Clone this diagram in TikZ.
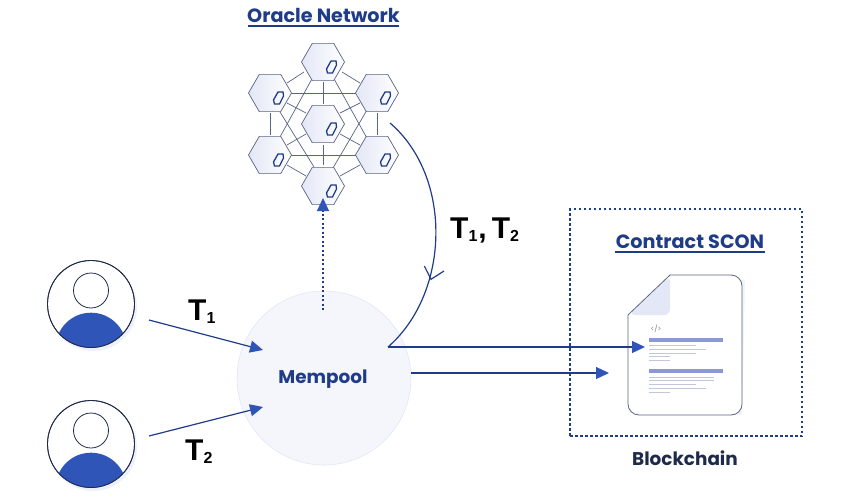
\documentclass[tikz,border=0pt]{standalone}
\usepackage{fontspec}
\setmainfont{Poppins}
\newfontfamily\tfont{Liberation Sans}
\usetikzlibrary{arrows.meta,shapes.geometric,calc}
\definecolor{navy}{HTML}{1F3C88}
\definecolor{tblue}{HTML}{2F55B8}
\definecolor{ink}{HTML}{1E2A4A}
\definecolor{hexline}{HTML}{5A6484}
\definecolor{lav}{HTML}{E3E7F6}
\definecolor{pale}{HTML}{F5F6FB}
\definecolor{bar}{HTML}{8C98D6}
\definecolor{greyline}{HTML}{C3C7DA}
\tikzset{
  flow/.style={draw=navy,line width=1.2pt,-{Triangle[length=13pt,width=12pt,color=tblue]}},
  plainflow/.style={draw=navy,line width=1.2pt},
  title/.style={font=\bfseries\fontsize{19.2}{22}\selectfont,text=navy},
  subtitle/.style={font=\bfseries\fontsize{18.4}{22}\selectfont},
  tlabel/.style={font=\tfont\bfseries\fontsize{30}{32}\selectfont,text=black,anchor=base west,inner sep=0pt},
  hex/.style={regular polygon,regular polygon sides=6,minimum size=43pt,inner sep=0pt,draw=hexline,line width=.7pt,shade,left color=lav,right color=white},
  mesh/.style={draw=hexline,line width=.7pt},
  person/.style={circle,draw=ink,line width=.8pt,fill=white,minimum size=87pt,inner sep=0pt},
  headc/.style={circle,draw=ink,line width=.8pt,fill=white,minimum size=35pt,inner sep=0pt},
  txtbar/.style={fill=bar,draw=none},
  txtline/.style={draw=greyline,line width=.7pt},
}
\newcommand{\chip}[1]{\draw[navy,line width=1.3pt] ($(#1)+(-.5,-6)$)--($(#1)+(4.5,-6)$)--($(#1)+(5,-2)$)--($(#1)+(1,6)$)--($(#1)+(-4,6)$)--($(#1)+(-5,2)$)--cycle;}
\newcommand{\subd}[1]{\raisebox{-3pt}{\fontsize{16}{17}\selectfont #1}}
\begin{document}
\begin{tikzpicture}[x=1pt,y=-1pt]
\useasboundingbox (0,0) rectangle (848,500);
\fill[white] (0,0) rectangle (848,500);
% title
\node[title] (orcl) at (323.5,15) {Oracle Network};
\draw[navy,line width=1.4pt] (248,26)--(399,26);
% mesh
\draw[mesh] (304,72)--(287,83) (342,72)--(360,83);
\draw[mesh] (270,113)--(270,135) (377,113)--(377,135);
\draw[mesh] (287,165)--(306,176) (360,165)--(340,176);
\draw[mesh] (287,93)--(360,93) (287,155)--(360,155);
\draw[mesh] (323,82)--(323,104) (323,145)--(323,165);
\draw[mesh] (313,77)--(280,137) (333,77)--(368,140);
\draw[mesh] (280,112)--(314,167) (367,110)--(333,168);
\draw[mesh] (306,113)--(287,103) (340,113)--(360,103);
\draw[mesh] (306,134)--(287,145) (340,134)--(360,145);
% hexes
\node[hex] (h1) at (323,62) {};
\node[hex] (h2) at (270,93) {};
\node[hex] (h3) at (377,93) {};
\node[hex] (h4) at (323,124) {};
\node[hex] (h5) at (270,155) {};
\node[hex] (h6) at (377,155) {};
\node[hex] (h7) at (323,186) {};
\foreach \c in {h1,h2,h3,h4,h5,h6,h7}{\coordinate (\c c) at ($(\c)+(8.5,5)$);\chip{\c c}}
% mempool
\node[circle,fill=pale,draw=lav,line width=.6pt,minimum size=174pt,inner sep=0pt] (pool) at (324,378) {};
\node[subtitle,text=navy] (pooltxt) at (323,379) {Mempool};
% users
\foreach \n/\y in {u1/304,u2/444}{
  \fill[lav!60] (93,\y+3) circle (44);
  \node[person] (\n) at (91,\y) {};
  \begin{scope}
    \clip (91,\y) circle (43.5);
    \fill[tblue] (91,\y+44.1) circle (35.4);
  \end{scope}
  \draw[ink,line width=.8pt] (91,\y) circle (43.5);
  \node[headc] (\n h) at (91,\y-13.5) {};
}
% blockchain box
\node[draw=navy,line width=1.2pt,dash pattern=on 2.5pt off 2.5pt,minimum width=232pt,minimum height=227pt,inner sep=0pt] (box) at (686,322.5) {};
\node[title] (scon) at (690,242) {Contract SCON};
\draw[navy,line width=1.4pt] (615,252)--(765,252);
\node[subtitle,text=ink] (bc) at (685,458) {Blockchain};
% document
\fill[lav!50] (631,318) -- (631,412) -- (742,415) -- (745,280) -- (672,278) --cycle;
\path[draw=hexline,line width=.8pt,fill=white,rounded corners=11pt] (628,315) -- (628,415) -- (742,415) -- (742,275) -- (670,275);
\fill[lav,rounded corners=6pt] (629,315) -- (670,315) -- (670,276) -- cycle;
\fill[white] (627,315)--(670,275)--(627,275)--cycle;
\draw[hexline,line width=.8pt] (628,315)--(670,275);
\node[font=\fontsize{7}{8}\selectfont,text=gray,inner sep=0pt] (code) at (656,329) {</>};
\fill[txtbar] (649,338) rectangle (723,342);
\fill[txtbar] (649,369) rectangle (723,373);
\draw[txtline] (649,345)--(696,345) (649,349)--(706,349) (649,353)--(696,353) (649,356)--(670,356) (649,360)--(670,360)
 (649,377)--(714,377) (649,380)--(714,380) (649,384)--(696,384) (649,388)--(706,388) (649,392)--(670,392);
% connectors
\coordinate (a1) at (149,320); \coordinate (a1e) at (263,350);
\coordinate (a2) at (149,436); \coordinate (a2e) at (263,407);
\draw[flow] (a1)--(a1e);
\draw[flow] (a2)--(a2e);
\node[tlabel] (t1) at (188,320) {T\subd{1}};
\node[tlabel] (t2) at (185,460) {T\subd{2}};
\coordinate (p1) at (388,347); \coordinate (p1e) at (645,347);
\coordinate (p2) at (411,373); \coordinate (p2e) at (609,373);
\draw[flow] (p1)--(p1e);
\draw[flow] (p2)--(p2e);
\coordinate (up) at (323,310); \coordinate (upe) at (323,198);
\draw[flow,dash pattern=on 2pt off 2.5pt] (up)--(upe);
\coordinate (c0) at (390,123);
\draw[plainflow] (c0) .. controls (453,177) and (450,293) .. (p1);
\coordinate (ca) at (424.3,266); \coordinate (cb) at (431,279.3); \coordinate (cc) at (444,271);
\draw[plainflow] (ca)--(cb)--(cc);
\node[tlabel] (t12) at (450,238) {T\subd{1}\kern1pt,\kern5pt T\subd{2}};
\end{tikzpicture}
\end{document}
